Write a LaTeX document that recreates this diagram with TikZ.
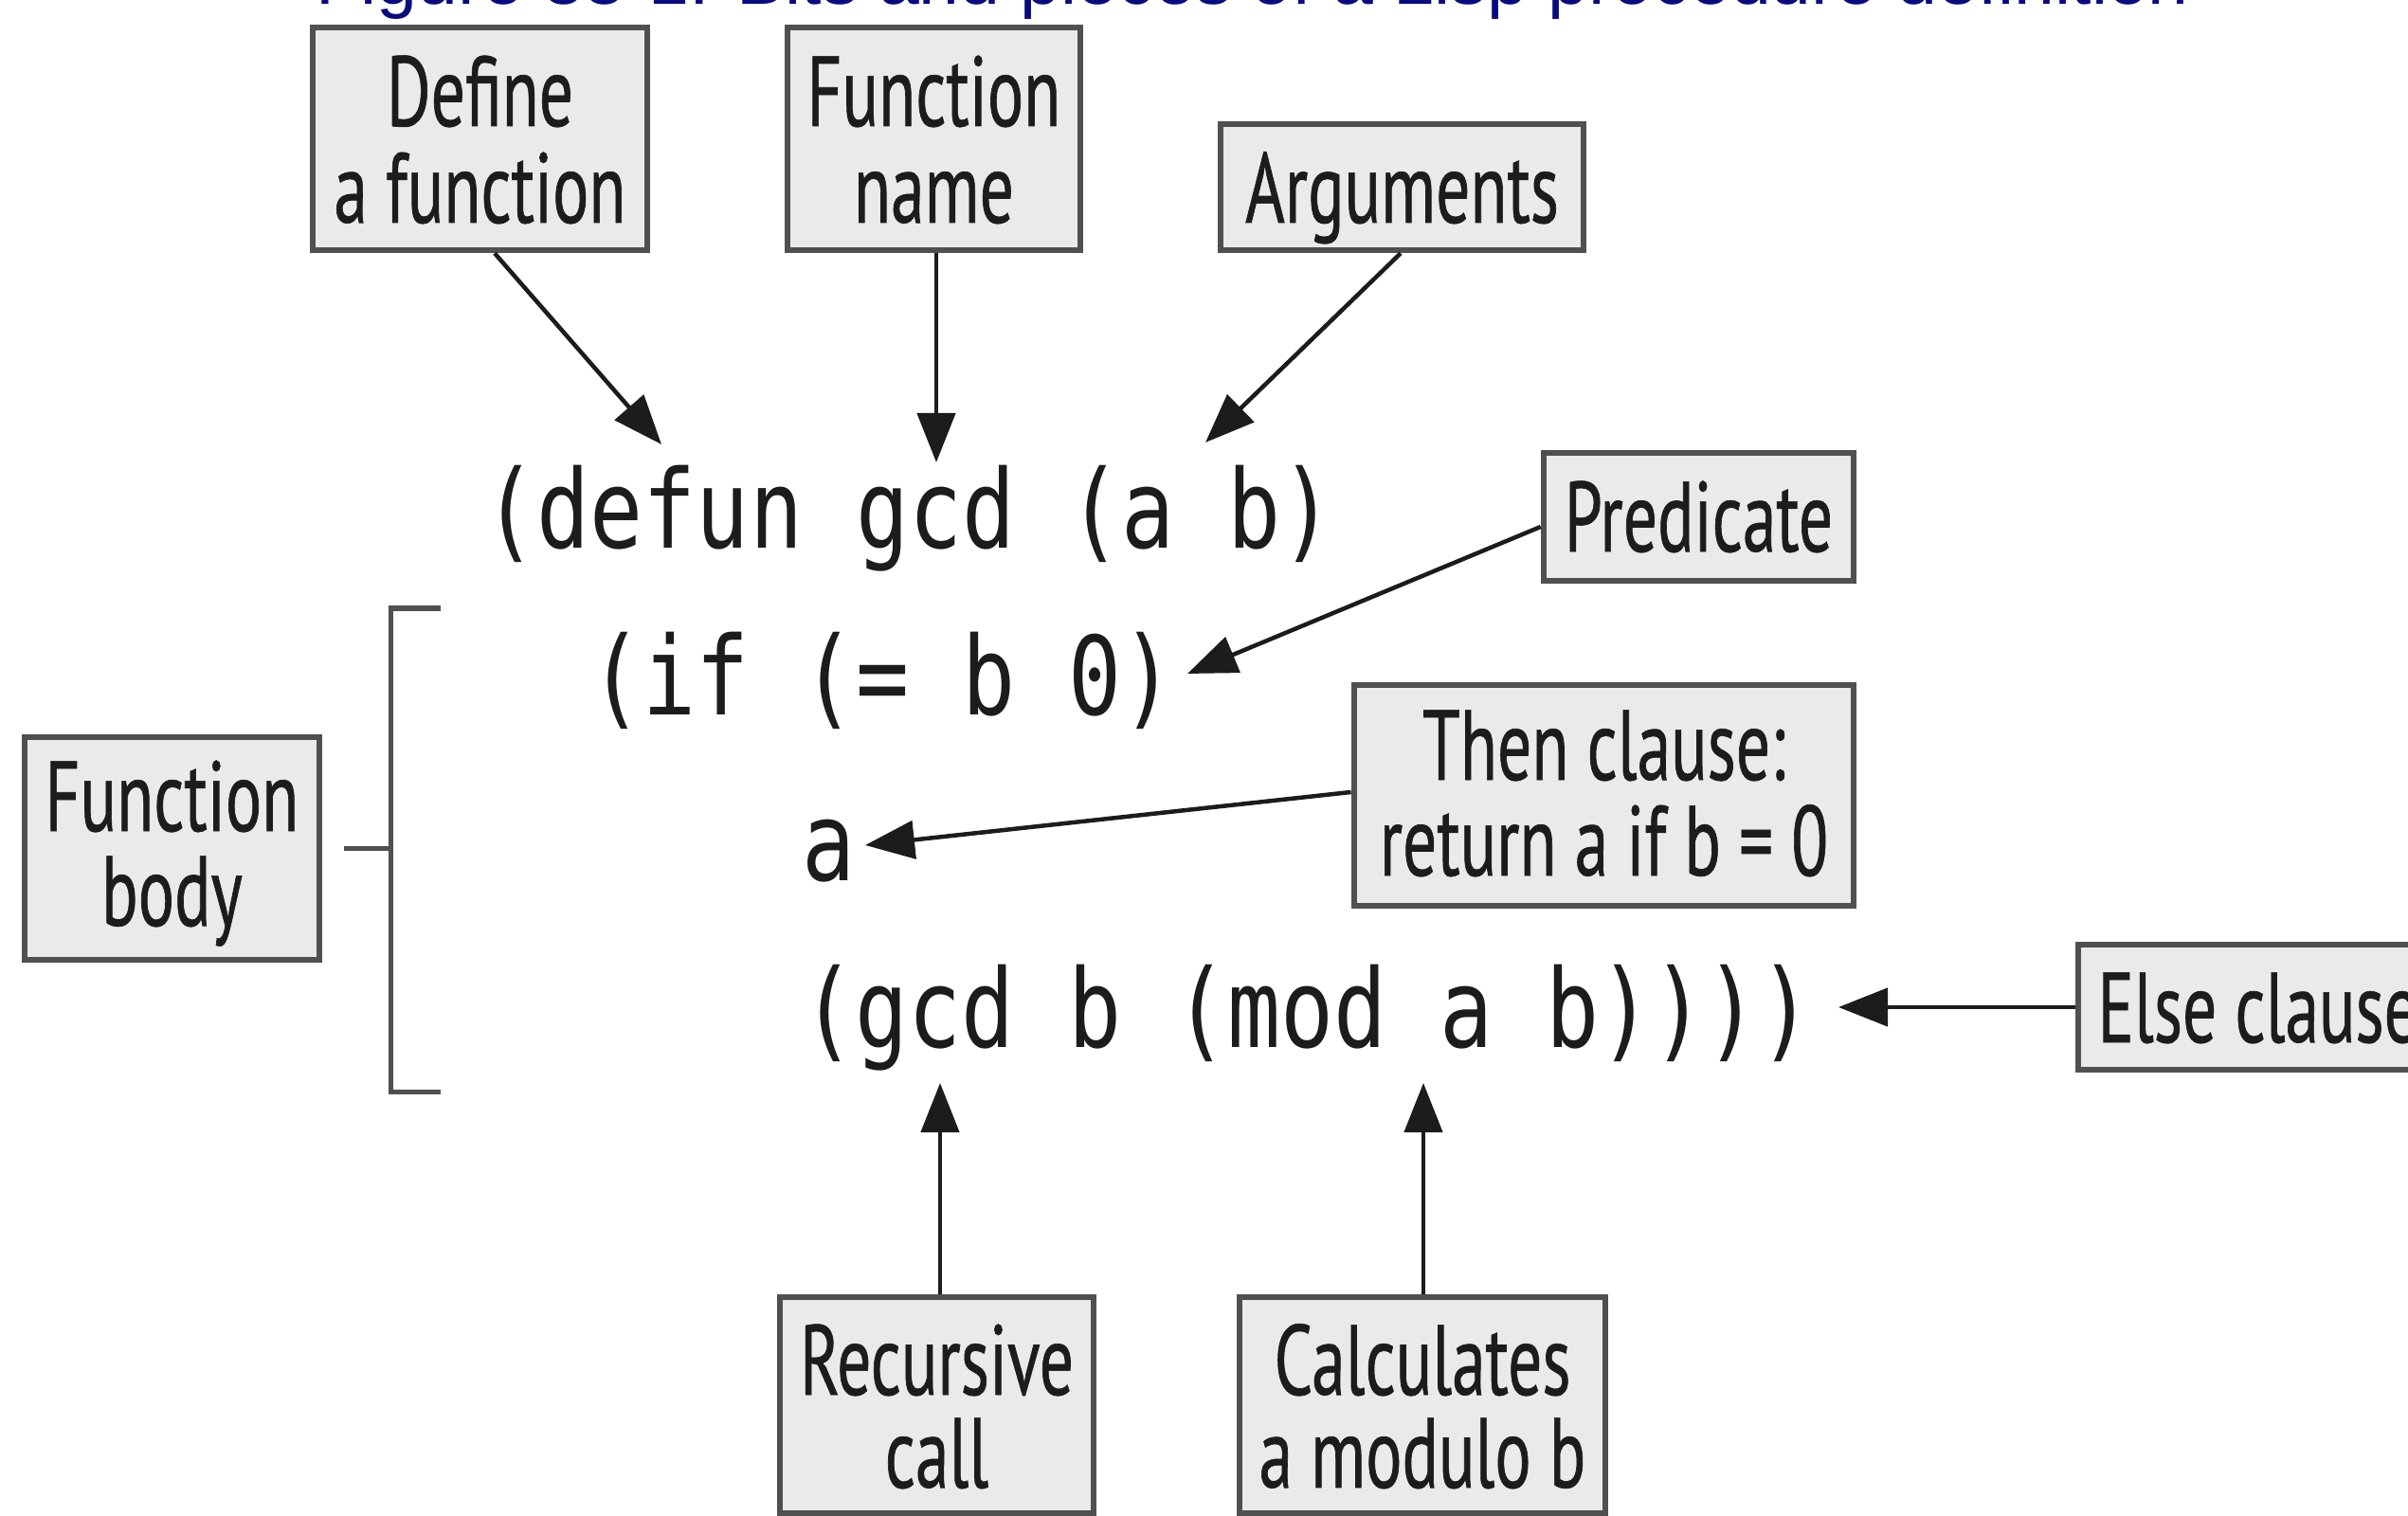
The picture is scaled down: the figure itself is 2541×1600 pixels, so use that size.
\documentclass[tikz,border=0pt]{standalone}
\usepackage{fontspec}
\usetikzlibrary{arrows.meta,calc}
\newfontfamily\titlefont{Liberation Sans}
\newfontfamily\boxfont[FakeStretch=0.68,FakeBold=0.6]{PT Sans}
\newfontfamily\codefont[FakeStretch=0.81]{DejaVu Sans Mono}
\definecolor{navytitle}{RGB}{10,10,128}
\definecolor{boxfill}{RGB}{234,234,234}
\definecolor{boxline}{RGB}{80,80,80}
\definecolor{ink}{RGB}{28,28,28}
\begin{document}
\begin{tikzpicture}[x=0.01cm,y=-0.01cm,
  box/.style={draw=boxline, fill=boxfill, line width=0.065cm, inner sep=0pt},
  lbl/.style={font=\boxfont\fontsize{29.9}{32}\selectfont, text=ink, inner sep=0pt, anchor=base},
  code/.style={font=\codefont\fontsize{32.7}{36}\selectfont, text=ink, inner sep=0pt, anchor=base west},
  arr/.style={draw=ink, line width=0.045cm, -{Triangle[length=0.52cm,width=0.4cm]}},
  brk/.style={draw=boxline, line width=0.05cm}]
\path[use as bounding box] (0,0) rectangle (2541,1600);
\clip (0,0) rectangle (2541,1600);

% title
\node[font=\titlefont\fontsize{21.9}{24}\selectfont, text=navytitle, anchor=base west, inner sep=0pt] (title) at (333,5) {Figure 33-1. Bits and pieces of a Lisp procedure definition};

% boxes
\node[box, minimum width=3.53cm, minimum height=2.35cm] (def) at (506.5,146.5) {};
\node[box, minimum width=3.09cm, minimum height=2.35cm] (fname) at (985.5,146.5) {};
\node[box, minimum width=3.83cm, minimum height=1.33cm] (args) at (1479.5,197.5) {};
\node[box, minimum width=3.27cm, minimum height=1.35cm] (pred) at (1792.5,545.5) {};
\node[box, minimum width=5.27cm, minimum height=2.33cm] (then) at (1692.5,839.5) {};
\node[box, minimum width=4.27cm, minimum height=1.32cm] (else) at (2406.5,1063) {};
\node[box, minimum width=3.11cm, minimum height=2.35cm] (body) at (181.5,895.5) {};
\node[box, minimum width=3.31cm, minimum height=2.28cm] (rec) at (988.5,1483) {};
\node[box, minimum width=3.86cm, minimum height=2.28cm] (calc) at (1501,1483) {};

% box labels
\node[lbl] (defA) at (506.5,133) {Define};
\node[lbl] (defB) at (506.5,235) {a function};
\node[lbl] (fnameA) at (985.5,133) {Function};
\node[lbl] (fnameB) at (985.5,235) {name};
\node[lbl] (argsA) at (1479.5,235) {Arguments};
\node[lbl] (predA) at (1792.5,582) {Predicate};
\node[lbl] (thenA) at (1692.5,823) {Then clause:};
\node[lbl] (thenB) at (1692.5,924) {return a if b = 0};
\node[lbl, anchor=base west] (elseA) at (2213,1100) {Else clause};
\node[lbl] (bodyA) at (181.5,877) {Function};
\node[lbl] (bodyB) at (181.5,977) {body};
\node[lbl] (recA) at (988.5,1472) {Recursive};
\node[lbl] (recB) at (988.5,1570) {call};
\node[lbl] (calcA) at (1501,1472) {Calculates};
\node[lbl] (calcB) at (1501,1570) {a modulo b};

% code
\node[code] (l1) at (510,578) {(defun gcd (a b)};
\node[code] (l2) at (622,754) {(if (= b 0)};
\node[code] (l3) at (846,929) {a};
\node[code] (l4) at (846,1105) {(gcd b (mod a b))))};

% arrow targets
\coordinate (tdef) at (698,469);
\coordinate (tname) at (988,488);
\coordinate (targs) at (1272,467);
\coordinate (tpred) at (1253,711);
\coordinate (tthen) at (913,892);
\coordinate (telse) at (1940,1063);
\coordinate (trec) at (992,1143);
\coordinate (tcalc) at (1502,1143);

% arrows
\draw[arr] ($(def.south)+(15.5,0)$) -- (tdef);
\draw[arr] ($(fname.south)+(2.5,0)$) -- (tname);
\draw[arr] ($(args.south)+(-1.5,0)$) -- (targs);
\draw[arr] ($(pred.west)+(0,10.5)$) -- (tpred);
\draw[arr] ($(then.west)+(0,-3.5)$) -- (tthen);
\draw[arr] (else.west) -- (telse);
\draw[arr] ($(rec.north)+(3.5,0)$) -- (trec);
\draw[arr] ($(calc.north)+(1,0)$) -- (tcalc);

% bracket
\draw[brk] (465,642) -- (412,642) -- (412,1152) -- (465,1152);
\draw[brk] ($(body.east)+(23,0)$) -- (412,895.5);
\end{tikzpicture}
\end{document}
